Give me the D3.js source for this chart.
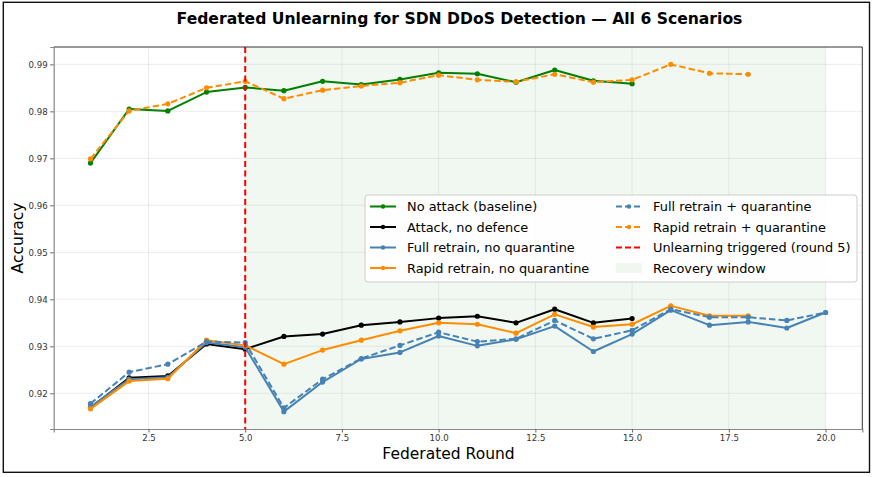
<!DOCTYPE html>
<html>
<head>
<meta charset="utf-8">
<script src="https://cdn.jsdelivr.net/npm/d3@7"></script>
<style>
  html, body { margin: 0; padding: 0; background: #fff; }
  svg { display: block; font-family: "DejaVu Sans", sans-serif; }
</style>
</head>
<body>
<svg id="chart" width="873" height="477"></svg>
<script>
// ---- Data ----
const rounds = d3.range(1, 21);
const baseline      = [0.9690, 0.9805, 0.9801, 0.9841, 0.9851, 0.9844, 0.9864, 0.9857, 0.9868, 0.9882, 0.9880, 0.9862, 0.9888, 0.9865, 0.9859];
const attackNoDef   = [0.9169, 0.9233, 0.9237, 0.9305, 0.9294, 0.9321, 0.9326, 0.9345, 0.9352, 0.9360, 0.9364, 0.9350, 0.9379, 0.9350, 0.9359];
const fullNoQ       = [0.9171, 0.9230, 0.9234, 0.9308, 0.9298, 0.9161, 0.9224, 0.9273, 0.9287, 0.9322, 0.9301, 0.9315, 0.9343, 0.9289, 0.9326, 0.9377, 0.9345, 0.9352, 0.9339, 0.9372];
const rapidNoQ      = [0.9167, 0.9226, 0.9231, 0.9313, 0.9302, 0.9262, 0.9292, 0.9313, 0.9333, 0.9350, 0.9347, 0.9328, 0.9368, 0.9341, 0.9347, 0.9386, 0.9365, 0.9365];
const fullQ         = [0.9178, 0.9245, 0.9262, 0.9310, 0.9308, 0.9169, 0.9230, 0.9274, 0.9302, 0.9330, 0.9310, 0.9316, 0.9355, 0.9316, 0.9334, 0.9379, 0.9362, 0.9362, 0.9355, 0.9372];
const rapidQ        = [0.9699, 0.9801, 0.9816, 0.9850, 0.9864, 0.9827, 0.9845, 0.9854, 0.9861, 0.9877, 0.9867, 0.9863, 0.9879, 0.9862, 0.9867, 0.9900, 0.9881, 0.9879];
const seriesNames   = ["No attack (baseline)", "Attack, no defence", "Full retrain, no quarantine", "Rapid retrain, no quarantine", "Full retrain + quarantine", "Rapid retrain + quarantine"];
const seriesColors  = ["#008000", "#000000", "#4682b4", "#ff8c00", "#4682b4", "#ff8c00"];
const seriesDashed  = [false, false, false, false, true, true];
const xTicks = [2.5, 5.0, 7.5, 10.0, 12.5, 15.0, 17.5, 20.0];
const yTicks = [0.92, 0.93, 0.94, 0.95, 0.96, 0.97, 0.98, 0.99];
const triggerRound = 5;
const recoveryWindow = [5, 20];
const titleText = "Federated Unlearning for SDN DDoS Detection \u2014 All 6 Scenarios";
const xLabel = "Federated Round";
const yLabel = "Accuracy";
const triggerLabel = "Unlearning triggered (round 5)";
const windowLabel = "Recovery window";

const allSeries = [baseline, attackNoDef, fullNoQ, rapidNoQ, fullQ, rapidQ];

// ---- Layout ----
const svg = d3.select("#chart");
const plot = { left: 53.7, right: 862.3, top: 47, bottom: 429 };

// figure border
svg.append("rect").attr("x", 3.3).attr("y", 2.3).attr("width", 866.2).attr("height", 470)
  .attr("fill", "#fff").attr("stroke", "#111").attr("stroke-width", 1.4);

// scales (matplotlib-style 5% margins)
const allVals = allSeries.flat();
const yMin = d3.min(allVals), yMax = d3.max(allVals);
const yPad = (yMax - yMin) * 0.05;
const xPad = (20 - 1) * 0.05;
const x = d3.scaleLinear().domain([1 - xPad, 20 + xPad]).range([plot.left, plot.right]);
const y = d3.scaleLinear().domain([yMin - yPad, yMax + yPad]).range([plot.bottom, plot.top]);

const g = svg.append("g");

// recovery window shading
g.append("rect")
  .attr("x", x(recoveryWindow[0])).attr("y", plot.top)
  .attr("width", x(recoveryWindow[1]) - x(recoveryWindow[0]))
  .attr("height", plot.bottom - plot.top)
  .attr("fill", "#008000").attr("fill-opacity", 0.055);

// grid
const grid = g.append("g");
xTicks.forEach(t => grid.append("line").attr("x1", x(t)).attr("x2", x(t)).attr("y1", plot.top).attr("y2", plot.bottom)
  .attr("stroke", "#b0b0b0").attr("stroke-opacity", 0.3).attr("stroke-width", 0.8));
yTicks.forEach(t => grid.append("line").attr("y1", y(t)).attr("y2", y(t)).attr("x1", plot.left).attr("x2", plot.right)
  .attr("stroke", "#b0b0b0").attr("stroke-opacity", 0.3).attr("stroke-width", 0.8));

// series lines
const line = d3.line().x((d, i) => x(rounds[i])).y(d => y(d));
allSeries.forEach((s, k) => {
  const sg = g.append("g");
  sg.append("path").datum(s).attr("d", line)
    .attr("fill", "none").attr("stroke", seriesColors[k]).attr("stroke-width", 2)
    .attr("stroke-linejoin", "round")
    .attr("stroke-dasharray", seriesDashed[k] ? "6.5,3" : null);
  sg.selectAll("circle").data(s).join("circle")
    .attr("cx", (d, i) => x(rounds[i])).attr("cy", d => y(d)).attr("r", 2.6)
    .attr("fill", seriesColors[k]);
});

// trigger line
g.append("line").attr("x1", x(triggerRound)).attr("x2", x(triggerRound))
  .attr("y1", plot.top).attr("y2", plot.bottom)
  .attr("stroke", "#ff0000").attr("stroke-width", 2).attr("stroke-dasharray", "6,3.5");

// spines
svg.append("line").attr("x1", plot.left).attr("x2", plot.right).attr("y1", plot.top).attr("y2", plot.top).attr("stroke", "#333").attr("stroke-width", 1);
svg.append("line").attr("x1", plot.right).attr("x2", plot.right).attr("y1", plot.top).attr("y2", plot.bottom).attr("stroke", "#333").attr("stroke-width", 1);

// axes
const xAxis = d3.axisBottom(x).tickValues(xTicks).tickFormat(d3.format(".1f")).tickSize(3.5).tickPadding(2.5);
const yAxis = d3.axisLeft(y).tickValues(yTicks).tickFormat(d3.format(".2f")).tickSize(3.5).tickPadding(2.5);
const gx = svg.append("g").attr("transform", `translate(0,${plot.bottom})`).call(xAxis);
const gy = svg.append("g").attr("transform", `translate(${plot.left},0)`).call(yAxis);
[gx, gy].forEach(a => {
  a.select(".domain").attr("stroke", "#888").attr("stroke-width", 1.2);
  a.selectAll(".tick line").attr("stroke", "#666");
  a.selectAll(".tick text").attr("fill", "#333").style("font-size", "8.6px").style("font-family", "DejaVu Sans");
});

// title and labels
svg.append("text").attr("x", 459.5).attr("y", 24)
  .attr("text-anchor", "middle").style("font-weight", "bold").style("font-size", "15.6px")
  .attr("fill", "#000").text(titleText);
svg.append("text").attr("x", 448.5).attr("y", 459)
  .attr("text-anchor", "middle").style("font-size", "15.5px").attr("fill", "#000").text(xLabel);
svg.append("text").attr("transform", `translate(23,${(plot.top + plot.bottom) / 2}) rotate(-90)`)
  .attr("text-anchor", "middle").style("font-size", "15.5px").attr("fill", "#000").text(yLabel);

// legend
const lg = svg.append("g");
lg.append("rect").attr("x", 365).attr("y", 195).attr("width", 492).attr("height", 87).attr("rx", 3)
  .attr("fill", "#fff").attr("fill-opacity", 0.85).attr("stroke", "#cccccc").attr("stroke-width", 1);
const legendItems = seriesNames.map((n, k) => ({ name: n, color: seriesColors[k], dashed: seriesDashed[k], type: "line", marker: true }));
legendItems.push({ name: triggerLabel, color: "#ff0000", dashed: true, type: "line", marker: false });
legendItems.push({ name: windowLabel, color: "#008000", type: "patch" });
const colX = [370, 616], rowY = [206.5, 227, 247.5, 268];
legendItems.forEach((it, i) => {
  const col = Math.floor(i / 4), row = i % 4;
  const hx = colX[col], hy = rowY[row];
  if (it.type === "line") {
    lg.append("line").attr("x1", hx).attr("x2", hx + 26).attr("y1", hy).attr("y2", hy)
      .attr("stroke", it.color).attr("stroke-width", 2)
      .attr("stroke-dasharray", it.dashed ? "6,3" : null);
    if (it.marker) lg.append("circle").attr("cx", hx + 13).attr("cy", hy).attr("r", 2.2).attr("fill", it.color);
  } else {
    lg.append("rect").attr("x", hx).attr("y", hy - 5).attr("width", 26).attr("height", 10)
      .attr("fill", it.color).attr("fill-opacity", 0.055);
  }
  lg.append("text").attr("x", hx + 37).attr("y", hy + 4.6).style("font-size", "12.9px").attr("fill", "#000").text(it.name);
});
</script>
</body>
</html>
